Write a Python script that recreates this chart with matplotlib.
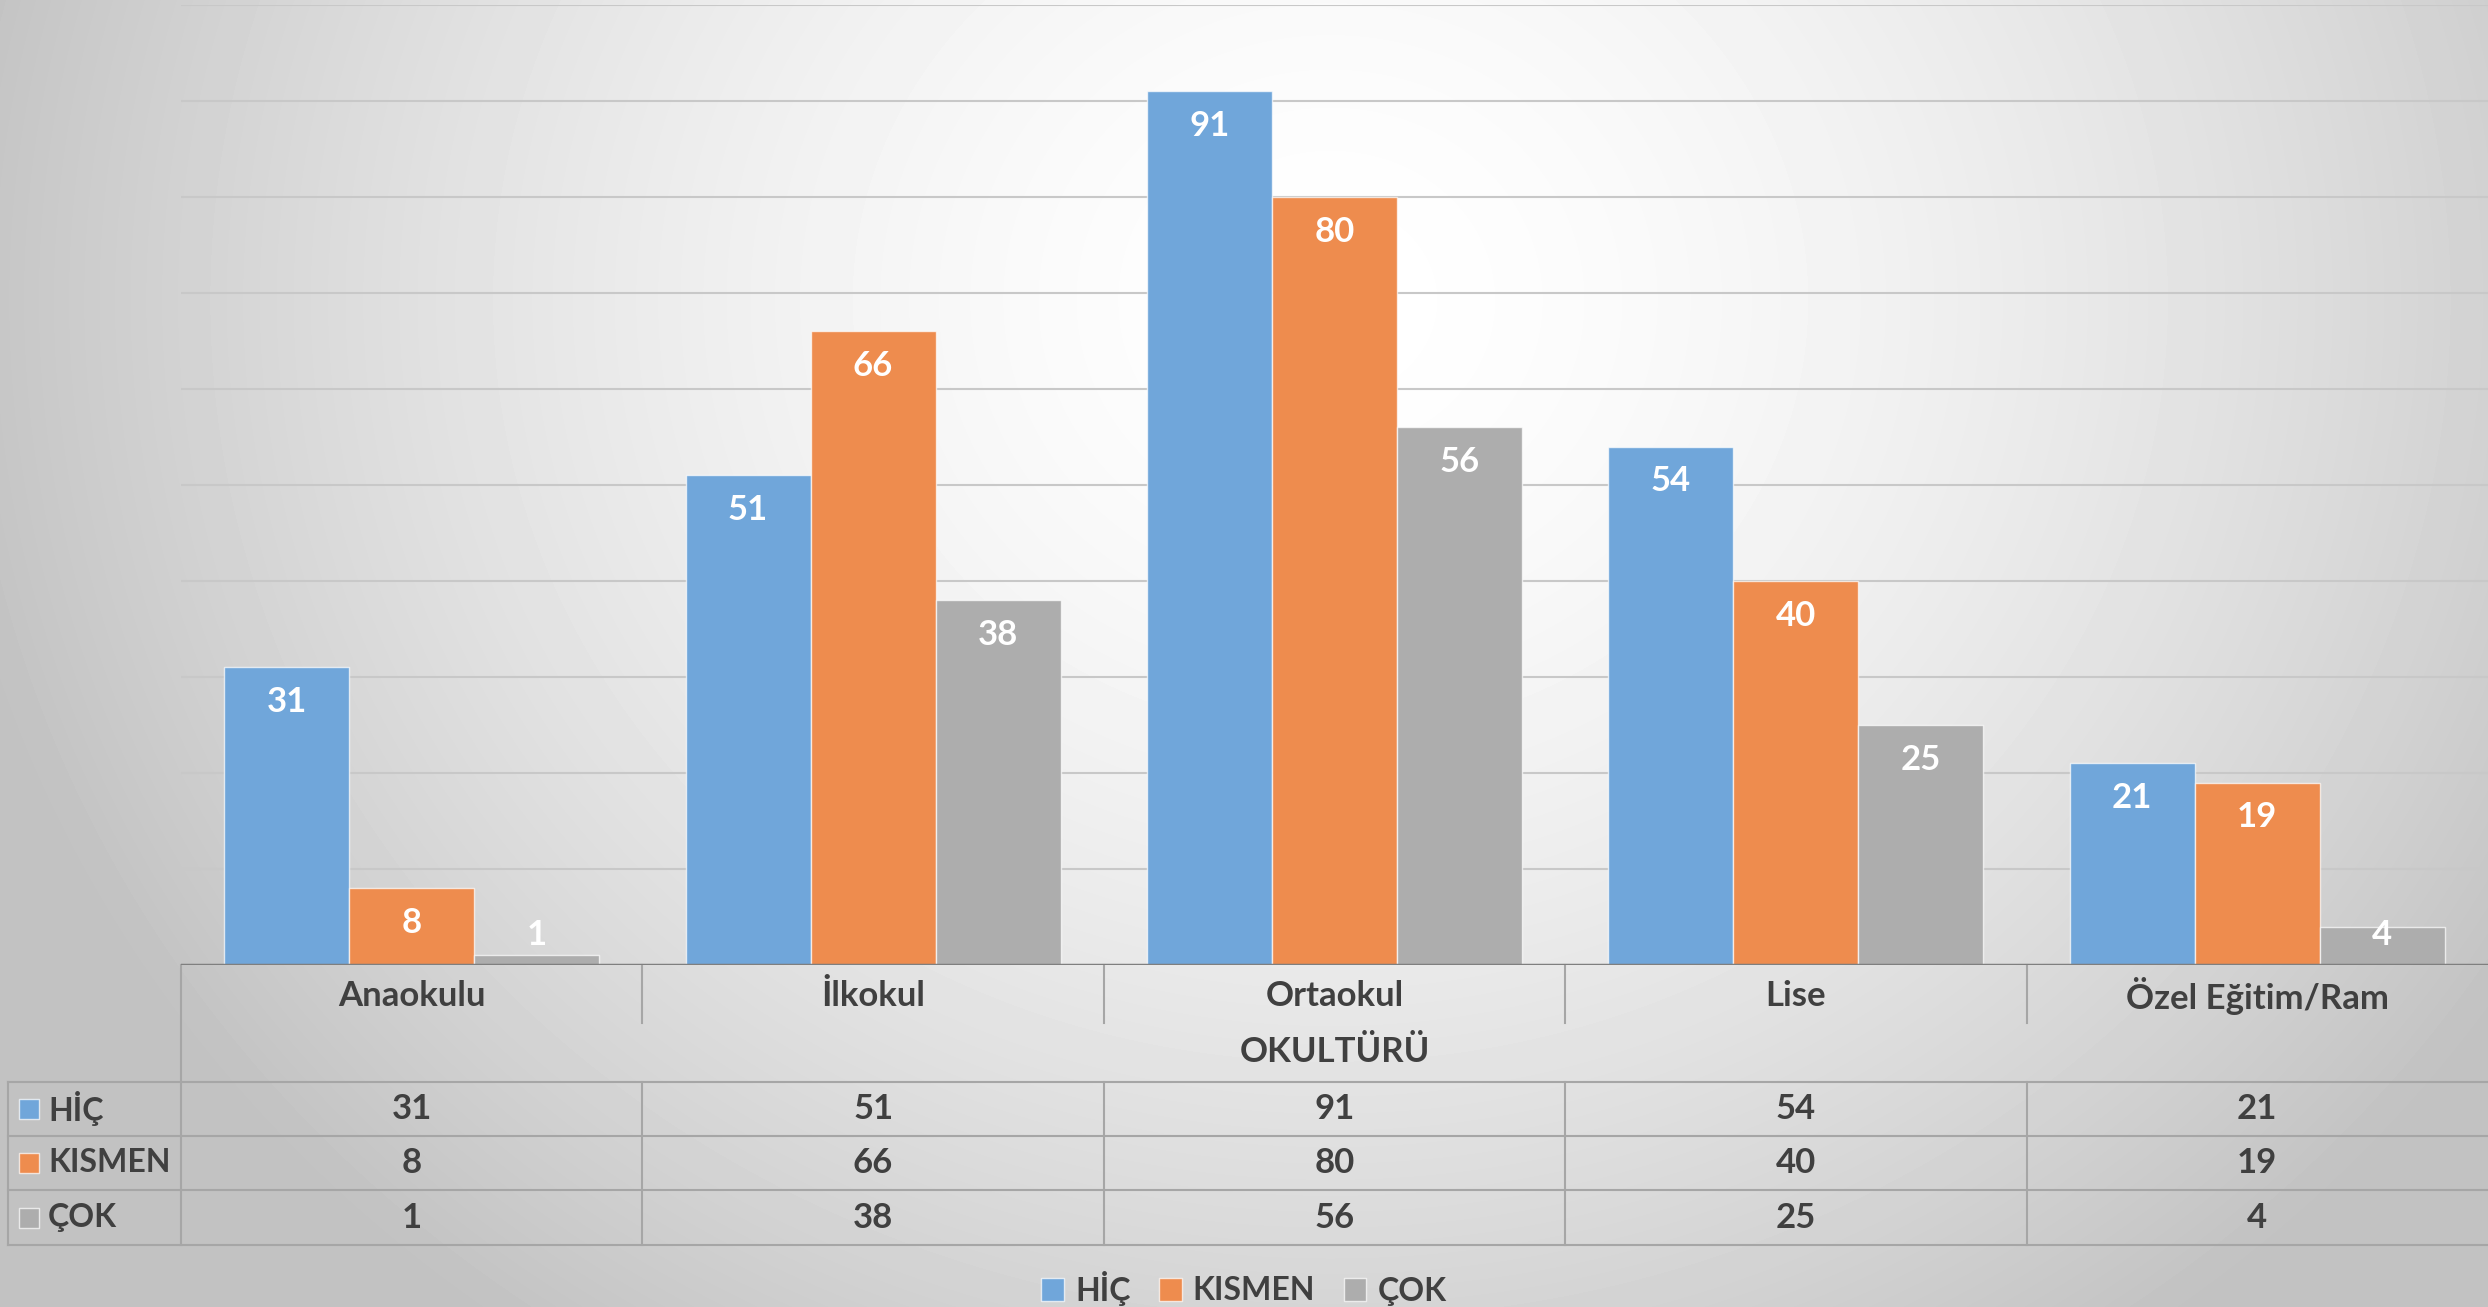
import numpy as np
import matplotlib.pyplot as plt
import matplotlib.transforms as mtransforms
from matplotlib.patches import Rectangle, Patch

plt.rcParams['font.family'] = ['Lato', 'DejaVu Sans']

# data
categories = ['Anaokulu', 'İlkokul', 'Ortaokul', 'Lise', 'Özel Eğitim/Ram']
series_names = ['HİÇ', 'KISMEN', 'ÇOK']
hic = [31, 51, 91, 54, 21]
kismen = [8, 66, 80, 40, 19]
cok = [1, 38, 56, 25, 4]
axis_title = 'OKULTÜRÜ'

colors = ['#70A6DA', '#EE8C4E', '#ADADAD']
text_color = '#404040'
line_color = '#A6A6A6'
fs = 25
fs_small = 23

W, H = 2488, 1307
fig = plt.figure(figsize=(W / 100, H / 100), dpi=100)


def fx(px):
    return px / W


def fy(py):
    return 1 - py / H


# radial gradient background
bg = fig.add_axes([0, 0, 1, 1], zorder=-10)
yy, xx = np.mgrid[0:H, 0:W]
d = np.hypot(xx - 1330, (yy - 300) * 1.1) / 1400
t = np.clip(d, 0, 1) ** 1.6
shade = 1 - 0.24 * t
bg.imshow(shade, cmap='gray', vmin=0, vmax=1, aspect='auto', extent=(0, W, H, 0))
bg.axis('off')

# bars
ax = fig.add_axes([fx(181), fy(965), 1 - fx(181), (965 - 5) / H])
ax.set_facecolor('none')
x = np.arange(len(categories))
bw = 0.271
series = [hic, kismen, cok]
for k, vals in enumerate(series):
    pos = x + (k - 1) * bw
    ax.bar(pos, vals, bw, color=colors[k], edgecolor=(1, 1, 1, 0.7),
           linewidth=1, zorder=3)
    for xi, v in zip(pos, vals):
        ax.text(xi, max(v - 3.6, 3.1), str(v), ha='center', va='center',
                color='white', fontsize=fs, fontweight='bold', zorder=4)

ax.set_xlim(-0.5, 4.5)
ax.set_ylim(0, 100)
ax.set_yticks(np.arange(10, 101, 10))
ax.yaxis.grid(True, color='#C8C8C8', lw=1.5)
ax.set_axisbelow(True)
ax.tick_params(left=False, bottom=False, labelleft=False, labelbottom=False)
for s in ax.spines.values():
    s.set_visible(False)
ax.axhline(0, color='#7F7F7F', lw=2.5, zorder=5)

# data table below the axis
tr = mtransforms.blended_transform_factory(ax.transData, fig.transFigure)
kw = dict(color=line_color, lw=1.5, clip_on=False)

ax.plot([-0.5, -0.5], [fy(965), fy(1245)], transform=tr, **kw)
for i in range(len(categories) - 1):
    ax.plot([i + 0.5, i + 0.5], [fy(965), fy(1023)], transform=tr, **kw)
    ax.plot([i + 0.5, i + 0.5], [fy(1082), fy(1245)], transform=tr, **kw)
for i, c in enumerate(categories):
    ax.text(i, fy(996), c, transform=tr, ha='center', va='center',
            fontsize=fs, fontweight='bold', color=text_color)
ax.text(2, fy(1052), axis_title, transform=tr, ha='center', va='center',
        fontsize=fs, fontweight='bold', color=text_color)

row_y = [1082, 1136, 1190, 1245]
for ry in row_y:
    ax.plot([fx(8), 1], [fy(ry), fy(ry)], transform=fig.transFigure, **kw)
ax.plot([fx(8), fx(8)], [fy(1082), fy(1245)], transform=fig.transFigure, **kw)

for k, (name, vals) in enumerate(zip(series_names, series)):
    cy = (row_y[k] + row_y[k + 1]) / 2
    fig.add_artist(Rectangle((fx(19), fy(cy + 10)), fx(20), 20 / H,
                             transform=fig.transFigure, facecolor=colors[k],
                             edgecolor=(1, 1, 1, 0.7), lw=1))
    fig.text(fx(48), fy(cy), name, ha='left', va='center', fontsize=fs_small,
             fontweight='bold', color=text_color)
    for i, v in enumerate(vals):
        ax.text(i, fy(cy), str(v), transform=tr, ha='center', va='center',
                fontsize=fs, fontweight='bold', color=text_color)

# legend
handles = [Patch(facecolor=colors[k], edgecolor=(1, 1, 1, 0.7), label=n)
           for k, n in enumerate(series_names)]
fig.legend(handles=handles, loc='center', bbox_to_anchor=(0.5, fy(1288)),
           ncol=3, frameon=False, prop={'size': fs_small, 'weight': 'bold'},
           labelcolor=text_color, handlelength=0.7, handleheight=0.7,
           columnspacing=0.9, handletextpad=0.35)

fig.savefig('out.png', dpi=100)
